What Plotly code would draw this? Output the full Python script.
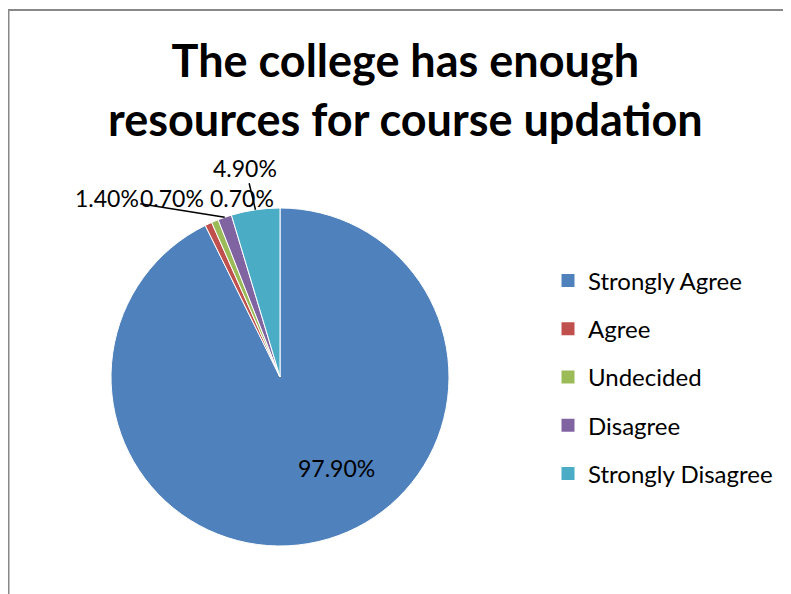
import math
import plotly.graph_objects as go

categories = ["Strongly Agree", "Agree", "Undecided", "Disagree", "Strongly Disagree"]
values = [97.9, 0.7, 0.7, 1.4, 4.9]
value_labels = ["97.90%", "0.70%", "0.70%", "1.40%", "4.90%"]
colors = ["#4F81BD", "#C0504D", "#9BBB59", "#8064A2", "#4BACC6"]
title_text = "<b>The college has enough<br>resources for course updation</b>"

# page body adds an 8px offset; figure sized to fill the rest of the window
OFF = 8
W, H = 791 - OFF, 594 - OFF
FONT = "Lato"

# pie box in window pixels (style / layout)
PIE_L, PIE_R, PIE_T, PIE_B = 111, 449, 208, 546
CX, CY = (PIE_L + PIE_R) / 2, (PIE_T + PIE_B) / 2
R = min(PIE_R - PIE_L, PIE_B - PIE_T) / 2

# label placement style per slice: (radius fraction, dx, dy, leader line?)
label_style = [
    (0.6, 33, -8, False),
    (1.0, -36, -26, False),
    (1.0, 27, -23, False),
    (1.0, -118, -19, True),
    (1.0, -10, -42, True),
]


def px(x):
    return (x - OFF) / W


def py(y):
    return 1 - (y - OFF) / H


fig = go.Figure()
fig.add_trace(go.Pie(
    labels=categories,
    values=values,
    textinfo="none",
    sort=False,
    direction="clockwise",
    rotation=0,
    marker=dict(colors=colors, line=dict(color="white", width=1)),
    domain=dict(x=[px(PIE_L), px(PIE_R)], y=[py(PIE_B), py(PIE_T)]),
    showlegend=False,
    hoverinfo="label+percent",
))

# data labels anchored at each slice's mid-angle (computed from the values)
total = sum(values)
annotations = []
cum = 0.0
for v, lab, (f, dx, dy, leader) in zip(values, value_labels, label_style):
    theta = 2 * math.pi * (cum + v / 2) / total
    cum += v
    sx = CX + f * R * math.sin(theta)
    sy = CY - f * R * math.cos(theta)
    a = dict(text=lab, xref="paper", yref="paper", x=px(sx), y=py(sy),
             font=dict(family=FONT, size=23, color="black"))
    if leader:
        a.update(showarrow=True, ax=dx, ay=dy, arrowhead=0, arrowwidth=1.5,
                 arrowcolor="black", standoff=0, startstandoff=0)
    else:
        a.update(showarrow=False, xshift=dx, yshift=-dy,
                 xanchor="center", yanchor="middle")
    annotations.append(a)

annotations.append(dict(text=title_text, xref="paper", yref="paper",
                        x=px(405), y=py(90), xanchor="center", yanchor="middle",
                        showarrow=False,
                        font=dict(family=FONT, size=45, color="black")))

for i, (cat, col) in enumerate(zip(categories, colors)):
    fig.add_trace(go.Scatter(
        x=[None], y=[None], mode="markers", name=cat,
        marker=dict(symbol="square", size=13, color=col),
        legendgroup=f"g{i}", showlegend=True,
    ))

fig.update_layout(
    width=W, height=H,
    margin=dict(l=0, r=0, t=0, b=0),
    paper_bgcolor="white", plot_bgcolor="white",
    font=dict(family=FONT, color="black"),
    xaxis=dict(visible=False), yaxis=dict(visible=False),
    legend=dict(x=px(548), xanchor="left", y=py(377), yanchor="middle",
                font=dict(family=FONT, size=24, color="black"),
                tracegroupgap=14, traceorder="grouped",
                bgcolor="rgba(0,0,0,0)"),
    annotations=annotations,
    shapes=[
        dict(type="line", xref="paper", yref="paper", x0=0, x1=1, y0=py(10), y1=py(10),
             line=dict(color="#888888", width=2)),
        dict(type="line", xref="paper", yref="paper", x0=px(8.5), x1=px(8.5), y0=0, y1=py(10),
             line=dict(color="#888888", width=2)),
    ],
)

fig.write_html("out.html")
